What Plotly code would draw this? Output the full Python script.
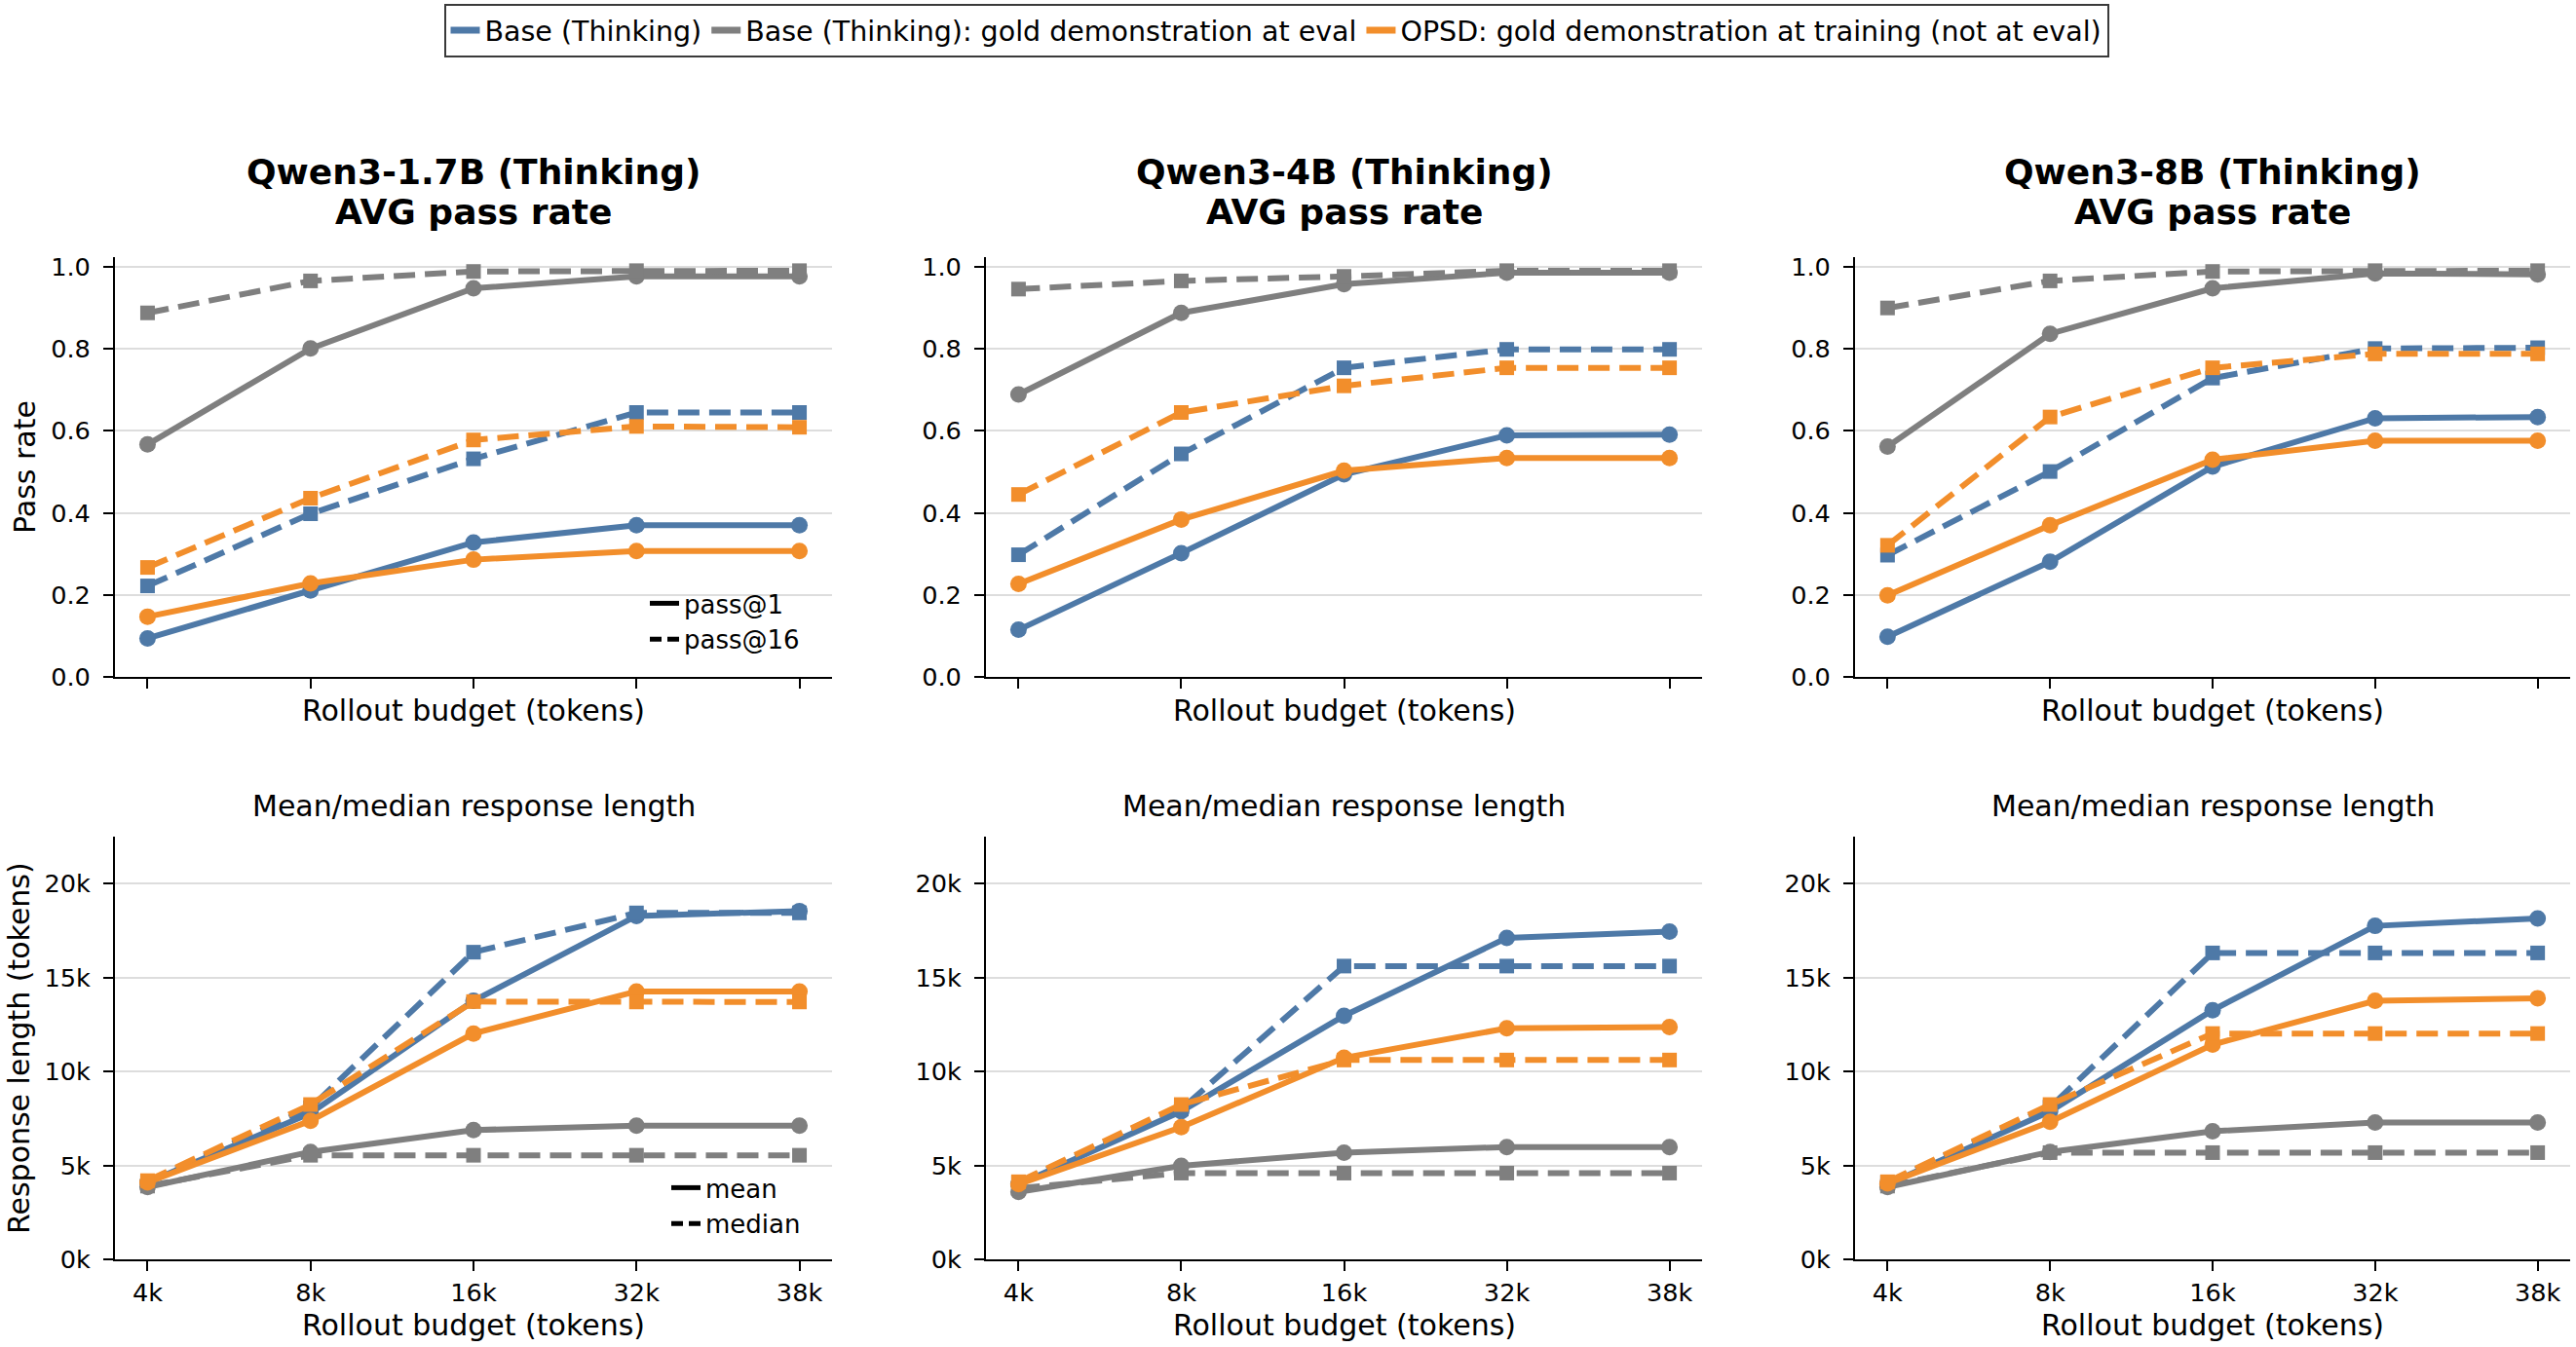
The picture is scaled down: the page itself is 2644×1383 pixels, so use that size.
import plotly.graph_objects as go
from plotly.subplots import make_subplots

# ---- data ----
budgets = ["4k", "8k", "16k", "32k", "38k"]
models = ["Qwen3-1.7B", "Qwen3-4B", "Qwen3-8B"]

# AVG pass rate, one list per model (1.7B, 4B, 8B)
base_pass1 = [[0.094, 0.211, 0.328, 0.370, 0.370],
              [0.115, 0.302, 0.494, 0.589, 0.591],
              [0.098, 0.281, 0.513, 0.631, 0.634]]
base_pass16 = [[0.222, 0.398, 0.532, 0.645, 0.645],
               [0.298, 0.544, 0.754, 0.799, 0.799],
               [0.297, 0.501, 0.729, 0.801, 0.803]]
gold_pass1 = [[0.567, 0.801, 0.948, 0.977, 0.977],
              [0.689, 0.888, 0.958, 0.986, 0.986],
              [0.562, 0.837, 0.948, 0.984, 0.982]]
gold_pass16 = [[0.888, 0.966, 0.989, 0.991, 0.991],
               [0.946, 0.966, 0.977, 0.991, 0.991],
               [0.900, 0.966, 0.989, 0.991, 0.991]]
opsd_pass1 = [[0.147, 0.228, 0.286, 0.307, 0.307],
              [0.227, 0.384, 0.503, 0.534, 0.534],
              [0.199, 0.370, 0.530, 0.576, 0.576]]
opsd_pass16 = [[0.267, 0.436, 0.578, 0.611, 0.609],
               [0.445, 0.645, 0.710, 0.754, 0.754],
               [0.321, 0.634, 0.754, 0.788, 0.788]]

# response length in tokens
base_mean = [[4090, 7780, 13760, 18280, 18540],
             [3990, 7880, 12960, 17110, 17450],
             [3990, 7880, 13260, 17750, 18150]]
base_median = [[4100, 8070, 16350, 18440, 18440],
               [4090, 8000, 15610, 15610, 15610],
               [4090, 8100, 16310, 16310, 16310]]
gold_mean = [[3850, 5720, 6880, 7120, 7120],
             [3590, 4980, 5680, 5980, 5980],
             [3850, 5720, 6820, 7280, 7280]]
gold_median = [[3900, 5540, 5540, 5540, 5540],
               [3790, 4590, 4590, 4590, 4590],
               [3900, 5680, 5680, 5680, 5680]]
opsd_mean = [[4100, 7380, 12020, 14260, 14260],
             [4000, 7040, 10730, 12300, 12360],
             [4050, 7320, 11430, 13760, 13900]]
opsd_median = [[4190, 8240, 13720, 13700, 13700],
               [4130, 8240, 10610, 10610, 10610],
               [4130, 8240, 12020, 12020, 12020]]

pass_ticks = [0.0, 0.2, 0.4, 0.6, 0.8, 1.0]
len_ticks = [0, 5000, 10000, 15000, 20000]
len_ticktext = ["0k", "5k", "10k", "15k", "20k"]

series_names = ["Base (Thinking)",
                "Base (Thinking): gold demonstration at eval",
                "OPSD: gold demonstration at training (not at eval)"]

# ---- style ----
BLUE, GRAY, ORANGE = "#4E79A7", "#7F7F7F", "#F28E2B"
FONT = "DejaVu Sans"
LW = 6
DASH = "22px,10px"

FIG_W, FIG_H = 2644, 1383


def fx(px):
    return px / FIG_W


def fy(px):
    return 1 - px / FIG_H


col_px = [(118, 854), (1012, 1747), (1904, 2638)]
row_px = [(264, 695), (859, 1293)]

fig = make_subplots(rows=2, cols=3)

for c in range(3):
    top = [(base_pass1, base_pass16, BLUE),
           (gold_pass1, gold_pass16, GRAY),
           (opsd_pass1, opsd_pass16, ORANGE)]
    bottom = [(base_mean, base_median, BLUE),
              (gold_mean, gold_median, GRAY),
              (opsd_mean, opsd_median, ORANGE)]
    for row, groups in ((1, top), (2, bottom)):
        for solid, dashed, color in groups:
            fig.add_trace(go.Scatter(x=budgets, y=solid[c], mode="lines+markers",
                                     line=dict(color=color, width=LW),
                                     marker=dict(symbol="circle", size=17, color=color),
                                     showlegend=False, hoverinfo="skip"),
                          row=row, col=c + 1)
            fig.add_trace(go.Scatter(x=budgets, y=dashed[c], mode="lines+markers",
                                     line=dict(color=color, width=LW, dash=DASH),
                                     marker=dict(symbol="square", size=15, color=color),
                                     showlegend=False, hoverinfo="skip"),
                          row=row, col=c + 1)

# legend-only traces
for name, color in zip(series_names, [BLUE, GRAY, ORANGE]):
    fig.add_trace(go.Scatter(x=[None], y=[None], mode="lines", name=name,
                             line=dict(color=color, width=7), legend="legend"))
for name, dash, lg in [("pass@1", "solid", "legend2"), ("pass@16", "12px,6px", "legend2"),
                       ("mean", "solid", "legend3"), ("median", "12px,6px", "legend3")]:
    fig.add_trace(go.Scatter(x=[None], y=[None], mode="lines", name=name,
                             line=dict(color="black", width=5, dash=dash), legend=lg))

axis_common = dict(showline=True, linecolor="black", linewidth=2, mirror=False,
                   ticks="outside", ticklen=10, tickwidth=2, tickcolor="black",
                   tickfont=dict(family=FONT, size=25.6, color="black"),
                   zeroline=False, automargin=False)

for r in range(2):
    for c in range(3):
        idx = r * 3 + c + 1
        sfx = "" if idx == 1 else str(idx)
        x0, x1 = col_px[c]
        y0, y1 = row_px[r]
        fig.layout["xaxis" + sfx].update(
            domain=[fx(x0), fx(x1)], type="category",
            categoryorder="array", categoryarray=budgets,
            range=[-0.2, 4.2], showgrid=False, showticklabels=(r == 1),
            ticklabelstandoff=0, **axis_common)
        yax = dict(domain=[fy(y1), fy(y0)], showgrid=True, gridcolor="#DDDDDD",
                   gridwidth=1.5, ticklabelstandoff=8, **axis_common)
        if r == 0:
            yax.update(range=[0, 1.024], tickvals=pass_ticks, tickformat=".1f")
        else:
            yax.update(range=[0, 22500], tickvals=len_ticks, ticktext=len_ticktext)
        fig.layout["yaxis" + sfx].update(**yax)


def label(text, xpx, ypx, size, angle=0):
    return dict(text=text, x=fx(xpx), y=fy(ypx), xref="paper", yref="paper",
                textangle=angle, xanchor="center", yanchor="middle", showarrow=False,
                font=dict(family=FONT, size=size, color="black"))


annotations = []
for c, model in enumerate(models):
    cx = (col_px[c][0] + col_px[c][1]) / 2
    annotations.append(label("<b>%s (Thinking)</b>" % model, cx, 177, 36))
    annotations.append(label("<b>AVG pass rate</b>", cx, 217, 36))
    annotations.append(label("Mean/median response length", cx, 827, 30))
    annotations.append(label("Rollout budget (tokens)", cx, 729, 30))
    annotations.append(label("Rollout budget (tokens)", cx, 1360, 30))

annotations.append(label("Pass rate", 25, 480, 30, -90))
annotations.append(label("Response length (tokens)", 19, 1076, 30, -90))

fig.update_layout(
    width=FIG_W, height=FIG_H,
    margin=dict(l=0, r=0, t=0, b=0),
    paper_bgcolor="white", plot_bgcolor="white",
    font=dict(family=FONT, color="black"),
    annotations=annotations,
    legend=dict(orientation="h", x=fx(1310), y=fy(4), xanchor="center", yanchor="top",
                bordercolor="#3a3a3a", borderwidth=2, bgcolor="white",
                font=dict(family=FONT, size=28.5, color="black")),
    legend2=dict(x=fx(662), y=fy(596), xanchor="left", yanchor="top",
                 bgcolor="rgba(0,0,0,0)", tracegroupgap=0,
                 font=dict(family=FONT, size=26, color="black")),
    legend3=dict(x=fx(684), y=fy(1196), xanchor="left", yanchor="top",
                 bgcolor="rgba(0,0,0,0)", tracegroupgap=0,
                 font=dict(family=FONT, size=26, color="black")),
)

# drop the default 8px page margin so the figure fills the window exactly
fig.write_html("out.html", config={"displayModeBar": False},
               post_script="document.body.style.margin='0';")
